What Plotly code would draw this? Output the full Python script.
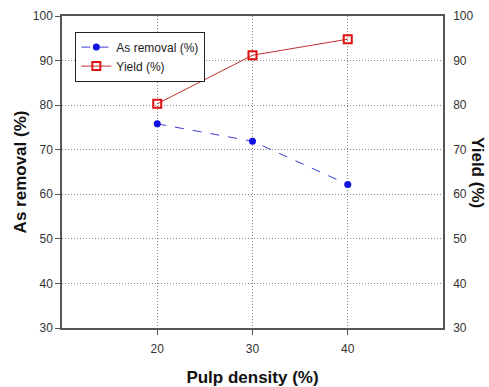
import plotly.graph_objects as go

pulp_density = [20, 30, 40]
as_removal = [75.8, 71.9, 62.2]
yield_pct = [80.3, 91.2, 94.8]

tick_font = dict(family="Liberation Sans Narrow, Arial Narrow, Liberation Sans", size=12, color="#333333")
title_font = dict(family="Liberation Sans, Arial", size=17, color="#111111")

fig = go.Figure()
fig.add_trace(go.Scatter(
    x=pulp_density, y=as_removal, name="As removal (%)", mode="lines+markers",
    line=dict(color="#3a3ad0", width=1, dash="dash"),
    marker=dict(symbol="circle", size=7, color="#1010e0"),
))
fig.add_trace(go.Scatter(
    x=pulp_density, y=yield_pct, name="Yield (%)", mode="lines+markers", yaxis="y2",
    line=dict(color="#c03030", width=1),
    marker=dict(symbol="square-open", size=8, color="#e01010", line=dict(width=2)),
))

grid = dict(showgrid=True, gridcolor="#8a8a8a", griddash="1px,2px", gridwidth=1)

fig.update_layout(
    width=489, height=387,
    margin=dict(l=62, r=46, t=16, b=59),
    paper_bgcolor="white", plot_bgcolor="white",
    showlegend=True,
    legend=dict(x=0.035, y=0.95, xanchor="left", yanchor="top",
                bgcolor="white", bordercolor="#222222", borderwidth=1,
                font=dict(family="Liberation Sans Narrow, Arial Narrow, Liberation Sans", size=12, color="#222222"),
                tracegroupgap=0, itemwidth=30),
    xaxis=dict(range=[10, 50], tickvals=[20, 30, 40], ticks="outside", ticklen=5,
               tickcolor="#555555", showline=True, linecolor="#555555", linewidth=1.5,
               mirror=True, zeroline=False, tickfont=tick_font, ticklabelstandoff=4,
               automargin=False, **grid,
               title=dict(text="<b>Pulp density (%)</b>", font=title_font, standoff=17)),
    yaxis=dict(range=[30, 100], dtick=10, ticks="outside", ticklen=5,
               tickcolor="#555555", showline=True, linecolor="#555555", linewidth=1.5,
               zeroline=False, tickfont=tick_font, automargin=False, **grid,
               title=dict(text="<b>As removal (%)</b>", font=title_font, standoff=2)),
    yaxis2=dict(range=[30, 100], dtick=10, overlaying="y", side="right",
                showline=True, linecolor="#555555", linewidth=1.5, ticks="",
                showgrid=False, zeroline=False, tickfont=tick_font, ticklabelstandoff=6,
                automargin=False),
    annotations=[dict(text="<b>Yield (%)</b>", textangle=90, xref="paper", yref="paper",
                      x=1.0, xshift=35, y=0.5, xanchor="center", yanchor="middle",
                      showarrow=False, font=title_font)],
)

fig.write_html("out.html")
